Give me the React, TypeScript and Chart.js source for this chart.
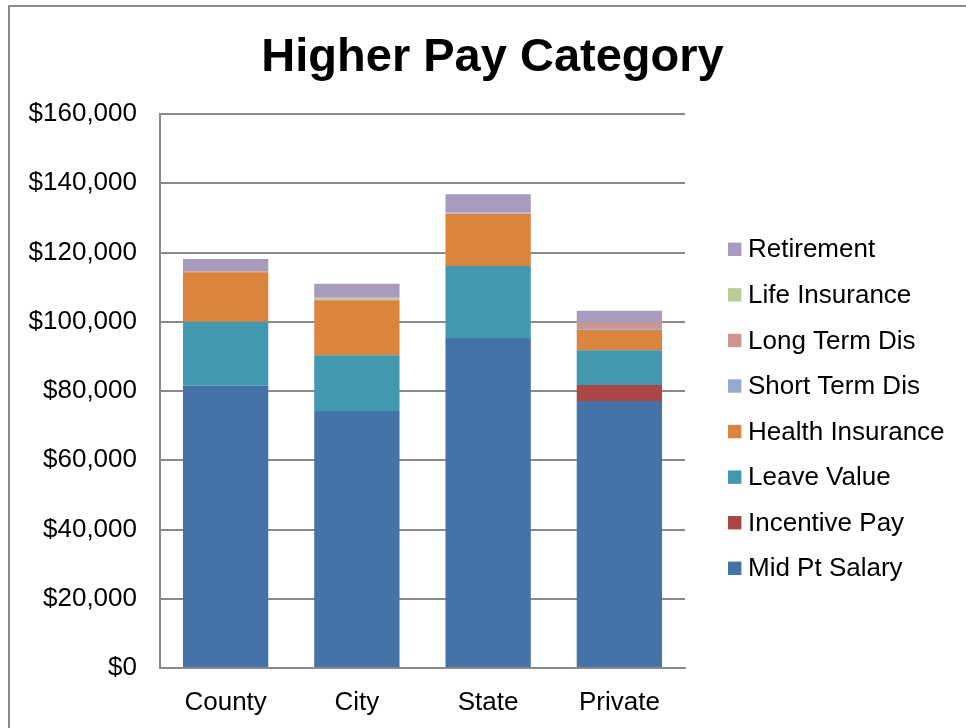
import React, { useEffect, useRef } from "react";
import { Chart, registerables } from "chart.js";

Chart.register(...registerables);

const chartTitle = "Higher Pay Category";
const categories = ["County", "City", "State", "Private"];

const seriesNames = [
  "Mid Pt Salary",
  "Incentive Pay",
  "Leave Value",
  "Health Insurance",
  "Short Term Dis",
  "Long Term Dis",
  "Life Insurance",
  "Retirement",
];
const seriesColors = [
  "#4572A7",
  "#AA4643",
  "#4198AF",
  "#DB843D",
  "#93A9CF",
  "#D19392",
  "#B9CD96",
  "#A99BBD",
];

const midPtSalary = [81600, 74200, 95300, 77100];
const incentivePay = [0, 0, 0, 4600];
const leaveValue = [18400, 16100, 20800, 10100];
const healthInsurance = [14300, 15900, 15000, 5900];
const shortTermDis = [100, 100, 100, 500];
const longTermDis = [150, 150, 150, 1500];
const lifeInsurance = [100, 450, 150, 100];
const retirement = [3500, 4100, 5300, 3400];

const yMin = 0;
const yMax = 160000;
const yStep = 20000;

const FONT = "'Liberation Sans', Arial, sans-serif";

const legendPlugin = {
  id: "rightLegend",
  afterDraw(chart: any) {
    const ctx = chart.ctx;
    const ds = chart.data.datasets.slice().reverse();
    const boxX = 728;
    const textX = 748;
    const startY = 249.3;
    const step = 45.57;
    ctx.save();
    ctx.font = `26px ${FONT}`;
    ctx.textBaseline = "middle";
    ctx.textAlign = "left";
    ds.forEach((d: any, i: number) => {
      const cy = startY + i * step;
      ctx.fillStyle = d.backgroundColor;
      ctx.fillRect(boxX, cy - 6.7, 13.4, 13.4);
      ctx.fillStyle = "#000";
      ctx.fillText(d.label, textX, cy + 1);
    });
    ctx.restore();
  },
};

export default function App() {
  const ref = useRef<HTMLCanvasElement | null>(null);

  useEffect(() => {
    if (!ref.current) return;
    const values = [
      midPtSalary,
      incentivePay,
      leaveValue,
      healthInsurance,
      shortTermDis,
      longTermDis,
      lifeInsurance,
      retirement,
    ];
    const chart = new Chart(ref.current, {
      type: "bar",
      data: {
        labels: categories,
        datasets: values.map((v, i) => ({
          label: seriesNames[i],
          data: v,
          backgroundColor: seriesColors[i],
          borderWidth: 0,
          barPercentage: 0.65,
          categoryPercentage: 1,
        })),
      },
      options: {
        animation: false,
        responsive: false,
        maintainAspectRatio: false,
        layout: { padding: { left: 19, right: 0, top: 0, bottom: 0 } },
        plugins: {
          legend: { display: false },
          tooltip: { enabled: false },
          title: {
            display: true,
            text: chartTitle,
            color: "#000",
            font: { family: FONT, size: 47, weight: "bold" },
            padding: { top: 30, bottom: 27.6 },
          },
        },
        scales: {
          x: {
            stacked: true,
            grid: { display: false },
            border: { display: true, color: "#8a8a8a", width: 2 },
            ticks: {
              color: "#000",
              font: { family: FONT, size: 26 },
              padding: 11,
              maxRotation: 0,
            },
            afterFit: (s: any) => {
              s.height = 60;
            },
          },
          y: {
            stacked: true,
            min: yMin,
            max: yMax,
            grid: { color: "#8a8a8a", lineWidth: 2, drawTicks: false },
            border: { display: true, color: "#8a8a8a", width: 2 },
            ticks: {
              stepSize: yStep,
              color: "#000",
              font: { family: FONT, size: 26 },
              padding: 23,
              callback: (v: any) => "$" + Number(v).toLocaleString("en-US"),
            },
            afterFit: (s: any) => {
              s.width = 141;
            },
          },
          legendSpace: {
            type: "linear",
            position: "right",
            display: true,
            grid: { display: false, drawTicks: false },
            border: { display: false },
            ticks: { display: false },
            afterFit: (s: any) => {
              s.width = 281;
            },
          },
        },
      },
      plugins: [legendPlugin],
    });
    return () => chart.destroy();
  }, []);

  return (
    <div
      style={{
        position: "fixed",
        left: 0,
        top: 0,
        width: 966,
        height: 728,
        background: "#fff",
        overflow: "hidden",
      }}
    >
      <canvas ref={ref} width={966} height={728} style={{ display: "block" }} />
      <div
        style={{
          position: "absolute",
          left: 8,
          top: 5,
          width: 1000,
          height: 1000,
          borderLeft: "2px solid #8a8a8a",
          borderTop: "2px solid #8a8a8a",
          pointerEvents: "none",
        }}
      />
    </div>
  );
}
